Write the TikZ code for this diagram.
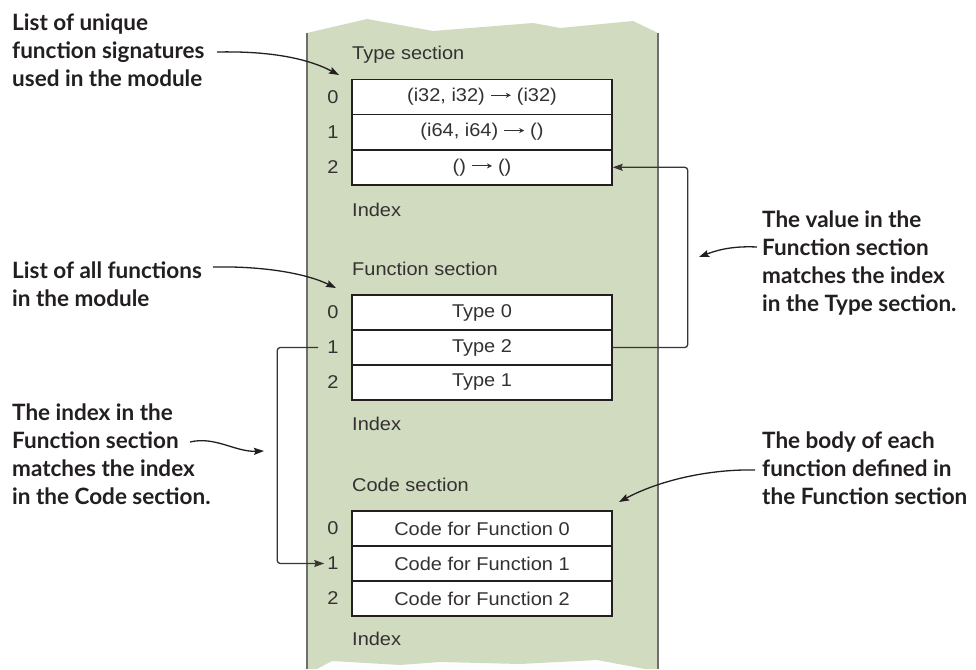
\documentclass[tikz,border=0pt]{standalone}
\usepackage{fontspec}
\setmainfont{Liberation Sans}
\newfontfamily\boxfont[FakeStretch=1.08]{Liberation Sans}
\newfontfamily\notefont{Lato}
\usetikzlibrary{arrows.meta}
\definecolor{panelgreen}{HTML}{D0DBBF}
\definecolor{ink}{HTML}{231F20}
\definecolor{edgegray}{HTML}{6E6E6E}
\newcommand\sigarrow{\tikz[baseline=-6.2pt,x=1pt,y=1pt]\draw[ink!92,line width=0.9pt,-{Stealth[length=5pt,width=5pt]}] (0,0) -- (20,0);}
\begin{document}
\begin{tikzpicture}[x=1pt,y=-1pt,
  rowbox/.style={draw=ink, fill=white, line width=1.4pt, minimum width=260pt,
    minimum height=35pt, inner sep=0pt, text=ink!92,
    font=\boxfont\fontsize{18.5}{22}\selectfont},
  idx/.style={inner xsep=3pt, inner ysep=0pt, text=ink!92,
    font=\boxfont\fontsize{18.5}{22}\selectfont},
  seclabel/.style={anchor=base west, inner sep=0pt, text=ink!92,
    font=\boxfont\fontsize{18.5}{22}\selectfont},
  note/.style={anchor=north west, align=left, inner sep=0pt, text=ink,
    font=\notefont\bfseries\fontsize{22.5}{27.8}\selectfont},
  conn/.style={draw=ink!90, line width=1.3pt, rounded corners=3pt},
  callout/.style={draw=ink, line width=1.3pt,
    -{Stealth[length=10pt,width=7pt,inset=1.5pt]}},
  tip/.style={-{Stealth[length=10pt,width=7pt,inset=1.5pt]}}
]
\useasboundingbox (0,0) rectangle (976,669);
\fill[white] (0,0) rectangle (976,669);

% panel
\fill[panelgreen] (307,33) -- (367,19) -- (433,31) -- (533,23) -- (560,28)
  -- (633,21) -- (658,33) -- (658,669) -- (645,669) -- (597,660) -- (520,664)
  -- (440,662) -- (400,665) -- (332,661) -- (317,669) -- (307,669) -- cycle;
\draw[edgegray, line width=2pt] (307,33) -- (307,669);
\draw[edgegray, line width=2pt] (658,33) -- (658,669);

% Type section
\node[seclabel] (tsec) at (352,59.5) {Type section};
\node[rowbox] (t0) at (482,96.7) {(i32, i32) \sigarrow{} (i32)};
\node[rowbox] (t1) at (482,132) {(i64, i64) \sigarrow{} ()};
\node[rowbox] (t2) at (482,167.3) {() \sigarrow{} ()};
\node[idx] (ti0) at (333,96.7) {0};
\node[idx] (ti1) at (333,132) {1};
\node[idx] (ti2) at (333,167.3) {2};
\node[seclabel] (tidx) at (352,216) {Index};

% Function section
\node[seclabel] (fsec) at (352,275) {Function section};
\node[rowbox] (f0) at (482,312.5) {Type 0};
\node[rowbox] (f1) at (482,347.5) {Type 2};
\node[rowbox] (f2) at (482,382.5) {Type 1};
\node[idx] (fi0) at (333,312.5) {0};
\node[idx] (fi1) at (333,347.5) {1};
\node[idx] (fi2) at (333,382.5) {2};
\node[seclabel] (fidx) at (352,430) {Index};

% Code section
\node[seclabel] (csec) at (352,491.5) {Code section};
\node[rowbox] (c0) at (482,528.5) {Code for Function 0};
\node[rowbox] (c1) at (482,563.5) {Code for Function 1};
\node[rowbox] (c2) at (482,598.5) {Code for Function 2};
\node[idx] (ci0) at (333,528.5) {0};
\node[idx] (ci1) at (333,563.5) {1};
\node[idx] (ci2) at (333,598.5) {2};
\node[seclabel] (cidx) at (352,645.5) {Index};

% connectors
\draw[conn, tip] (f1.east) -- ++(75,0) |- (t2.east);
\draw[conn, tip] ([xshift=-6pt]fi1.west) -- ++(-41,0) |- (ci1.west);

% notes
\node[note] (n1) at (12,14) {List of unique\\function signatures\\used in the module};
\node[note] (n2) at (12,262) {List of all functions\\in the module};
\node[note] (n3) at (12,404) {The index in the\\Function section\\matches the index\\in the Code section.};
\node[note] (n4) at (762,211) {The value in the\\Function section\\matches the index\\in the Type section.};
\node[note] (n5) at (762,432) {The body of each\\function defined in\\the Function section};

\coordinate (a1s) at (217,52);  \coordinate (a1e) at (339,75);
\coordinate (a2s) at (213,267); \coordinate (a2e) at (336,288);
\coordinate (a3s) at (190,442); \coordinate (a3e) at (264,451);
\coordinate (a4s) at (757,247); \coordinate (a4e) at (699,257);
\coordinate (a5s) at (755,470); \coordinate (a5e) at (619,502);

\draw[callout] (a1s) .. controls (265,51) and (305,57) .. (a1e);
\draw[callout] (a2s) .. controls (262,266) and (305,273) .. (a2e);
\draw[callout] (a3s) .. controls (215,436) and (235,452) .. (a3e);
\draw[callout] (a4s) .. controls (735,246) and (720,249) .. (a4e);
\draw[callout] (a5s) .. controls (710,469) and (660,480) .. (a5e);
\end{tikzpicture}
\end{document}
